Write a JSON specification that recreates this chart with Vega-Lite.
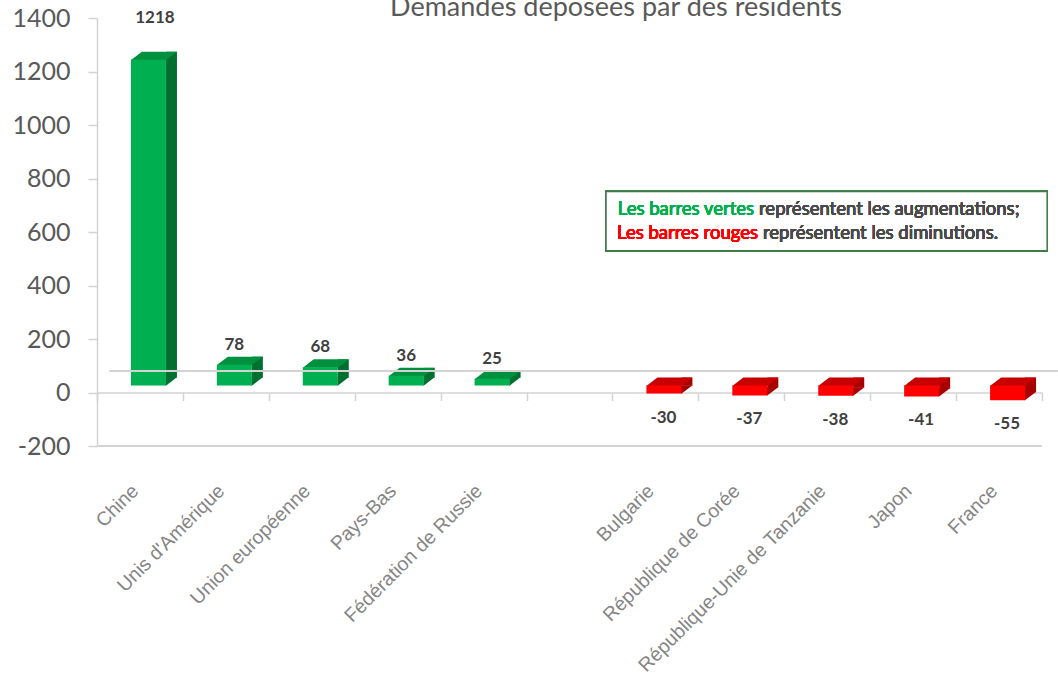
{
  "$schema": "https://vega.github.io/schema/vega-lite/v6.json",
  "width": 945,
  "height": 428,
  "autosize": {"type": "none"},
  "padding": {"left": 97, "top": 18, "right": 16, "bottom": 233},
  "background": "white",
  "config": {"view": {"stroke": null}},
  "title": {
    "text": "Demandes déposées par des résidents",
    "font": "Lato",
    "fontSize": 27,
    "fontWeight": "normal",
    "color": "#595959",
    "anchor": "middle",
    "dx": 46.5,
    "offset": -16
  },
  "data": {
    "values": [
      {"country": "Chine", "value": 1218},
      {"country": "Unis d'Amérique", "value": 78},
      {"country": "Union européenne", "value": 68},
      {"country": "Pays-Bas", "value": 36},
      {"country": "Fédération de Russie", "value": 25},
      {"country": "Bulgarie", "value": -30},
      {"country": "République de Corée", "value": -37},
      {"country": "République-Unie de Tanzanie", "value": -38},
      {"country": "Japon", "value": -41},
      {"country": "France", "value": -55}
    ]
  },
  "layer": [
    {
      "encoding": {
        "x": {
          "field": "country",
          "type": "nominal",
          "sort": null,
          "scale": {
            "domain": ["Chine", "Unis d'Amérique", "Union européenne", "Pays-Bas", "Fédération de Russie", " ", "Bulgarie", "République de Corée", "République-Unie de Tanzanie", "Japon", "France"],
            "paddingInner": 0,
            "paddingOuter": 0
          },
          "axis": {
            "title": null,
            "labelAngle": -45,
            "labelAlign": "right",
            "labelBaseline": "middle",
            "labelFont": "Liberation Sans",
            "labelFontSize": 19.5,
            "labelColor": "#858585",
            "labelOffset": -5,
            "ticks": true,
            "tickBand": "extent",
            "tickSize": 8,
            "tickColor": "#D3D3D3",
            "tickWidth": 1.5,
            "domainColor": "#D3D3D3",
            "domainWidth": 1.5,
            "offset": -53.5,
            "labelPadding": 87,
            "labelOverlap": false,
            "labelLimit": 400
          }
        },
        "y": {
          "field": "value",
          "type": "quantitative",
          "scale": {"domain": [-200, 1400], "nice": false},
          "axis": {
            "title": null,
            "values": [-200, 0, 200, 400, 600, 800, 1000, 1200, 1400],
            "labelExpr": "'' + datum.value",
            "labelFont": "Lato",
            "labelFontSize": 25,
            "labelColor": "#595959",
            "tickSize": 9,
            "tickColor": "#D3D3D3",
            "tickWidth": 1.5,
            "domainColor": "#D3D3D3",
            "domainWidth": 1.5,
            "labelPadding": 18,
            "grid": false
          }
        }
      },
      "layer": [
        {
          "mark": {"type": "bar", "width": 11, "xOffset": 31.5, "yOffset": -15},
          "encoding": {
            "color": {"condition": {"test": "datum.value < 0", "value": "#A80000"}, "value": "#007030"}
          }
        },
        {
          "transform": [{"filter": "datum.value > 0"}],
          "mark": {"type": "point", "shape": "M-0.4,-8.4 L-0.4,0.4 L11.2,-8.4 Z", "size": 4, "filled": true, "opacity": 1, "strokeWidth": 0, "color": "#007030", "xOffset": 26, "yOffset": -7},
          "encoding": {"y": {"datum": 0, "type": "quantitative"}}
        },
        {
          "transform": [{"filter": "datum.value < 0"}],
          "mark": {"type": "point", "shape": "M-0.4,-8.4 L-0.4,0.4 L11.2,-8.4 Z", "size": 4, "filled": true, "opacity": 1, "strokeWidth": 0, "color": "#A80000", "xOffset": 26, "yOffset": -7}
        },
        {
          "transform": [{"filter": "datum.value > 0"}],
          "mark": {"type": "point", "shape": "M-17.5,0.4 L17.5,0.4 L28.5,-8 L-6.5,-8 Z", "size": 4, "filled": true, "opacity": 1, "strokeWidth": 0, "color": "#00903E", "xOffset": 8.5, "yOffset": -7}
        },
        {
          "transform": [{"filter": "datum.value < 0"}],
          "mark": {"type": "point", "shape": "M-17.5,0.4 L17.5,0.4 L28.5,-8 L-6.5,-8 Z", "size": 4, "filled": true, "opacity": 1, "strokeWidth": 0, "color": "#C80000", "xOffset": 8.5, "yOffset": -7},
          "encoding": {"y": {"datum": 0, "type": "quantitative"}}
        },
        {
          "mark": {"type": "bar", "width": 35, "xOffset": 8.5, "yOffset": -7},
          "encoding": {
            "color": {"condition": {"test": "datum.value < 0", "value": "#FF0000"}, "value": "#00B050"}
          }
        },
        {
          "transform": [{"filter": "datum.value > 1000"}],
          "mark": {"type": "text", "font": "Lato", "fontSize": 17, "fontWeight": "bold", "color": "#404040", "dx": 15, "dy": -49, "baseline": "middle"},
          "encoding": {"text": {"field": "value", "type": "nominal"}}
        },
        {
          "transform": [{"filter": "datum.value > 0 && datum.value <= 1000"}],
          "mark": {"type": "text", "font": "Lato", "fontSize": 17, "fontWeight": "bold", "color": "#404040", "dx": 8.5, "dy": -27, "baseline": "middle"},
          "encoding": {"text": {"field": "value", "type": "nominal"}}
        },
        {
          "transform": [{"filter": "datum.value < 0"}],
          "mark": {"type": "text", "font": "Lato", "fontSize": 17, "fontWeight": "bold", "color": "#404040", "dx": 8, "dy": 17, "baseline": "middle"},
          "encoding": {"text": {"field": "value", "type": "nominal"}}
        }
      ]
    },
    {
      "encoding": {
        "x": {"datum": 0, "type": "quantitative", "scale": {"domain": [0, 11], "nice": false, "zero": false}, "axis": null}
      },
      "layer": [
        {
          "mark": {"type": "rule", "color": "#D3D3D3", "strokeWidth": 1.5},
          "encoding": {"x": {"datum": 0, "type": "quantitative"}, "x2": {"datum": 11}, "y": {"datum": -200, "type": "quantitative"}}
        },
        {
          "mark": {"type": "rule", "color": "#D3D3D3", "strokeWidth": 1.5, "yOffset": -21.5},
          "encoding": {"x": {"datum": 0.15, "type": "quantitative"}, "x2": {"datum": 11.18}, "y": {"datum": 0, "type": "quantitative"}}
        },
        {
          "mark": {"type": "rect", "fill": "white", "stroke": "#3E7D4A", "strokeWidth": 1.5},
          "encoding": {"x": {"datum": 5.925, "type": "quantitative"}, "x2": {"datum": 11.06}, "y": {"datum": 530, "type": "quantitative"}, "y2": {"datum": 751}}
        },
        {
          "mark": {"type": "text", "text": "Les barres vertes", "font": "Lato", "fontSize": 18.5, "color": "#00B050", "align": "right", "baseline": "alphabetic"},
          "encoding": {"x": {"datum": 7.648, "type": "quantitative"}, "y": {"datum": 663, "type": "quantitative"}}
        },
        {
          "mark": {"type": "text", "text": "représentent les augmentations;", "font": "Lato", "fontSize": 18.5, "color": "#4A4A4A", "align": "left", "baseline": "alphabetic"},
          "encoding": {"x": {"datum": 7.706, "type": "quantitative"}, "y": {"datum": 663, "type": "quantitative"}}
        },
        {
          "mark": {"type": "text", "text": "Les barres rouges", "font": "Lato", "fontSize": 18.5, "color": "#FF0000", "align": "right", "baseline": "alphabetic"},
          "encoding": {"x": {"datum": 7.694, "type": "quantitative"}, "y": {"datum": 574, "type": "quantitative"}}
        },
        {
          "mark": {"type": "text", "text": "représentent les diminutions.", "font": "Lato", "fontSize": 18.5, "color": "#4A4A4A", "align": "left", "baseline": "alphabetic"},
          "encoding": {"x": {"datum": 7.752, "type": "quantitative"}, "y": {"datum": 574, "type": "quantitative"}}
        }
      ]
    }
  ],
  "resolve": {"scale": {"x": "independent"}, "axis": {"x": "independent"}}
}
